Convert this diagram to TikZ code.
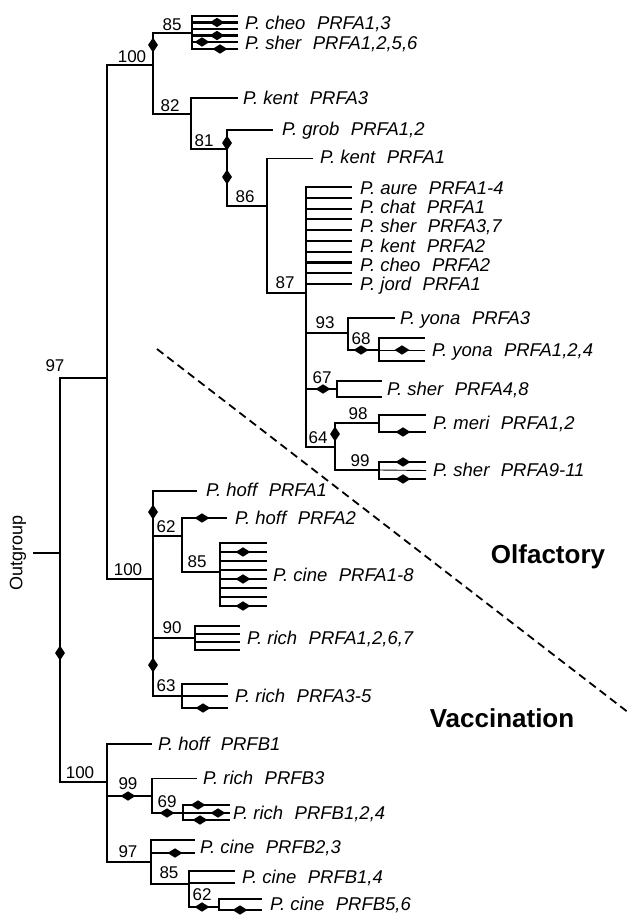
\documentclass[tikz,border=0pt]{standalone}
\usepackage{fontspec}
\setmainfont{Liberation Sans}
\usetikzlibrary{shapes.geometric}
\newcommand\gp{\hspace{0.62em}}
\begin{document}
\begin{tikzpicture}[x=1pt,y=-1pt,
 br/.style={line width=2.1pt},
 tbr/.style={line width=0.9pt},
 tip/.style={anchor=base west,inner sep=0,yshift=-6.6pt,font=\fontsize{18.5}{18.5}\selectfont\itshape},
 bs/.style={inner sep=0,font=\fontsize{17}{17}\selectfont},
 hd/.style={diamond,fill=black,inner sep=0,minimum width=15pt,minimum height=9.5pt},
 vd/.style={diamond,fill=black,inner sep=0,minimum width=10pt,minimum height=15pt},
 big/.style={inner sep=0,font=\fontsize{26}{26}\selectfont\bfseries}]
\useasboundingbox (0,0) rectangle (629,917);

% ---- root
\coordinate (root) at (60,553);
\coordinate (og) at (33,553);
\draw[br] (root) -- (og);
\node[rotate=90,inner sep=0,font=\fontsize{18}{18}\selectfont] (outg) at (18,553) {Outgroup};
\coordinate (nU) at (107,378);
\coordinate (nB) at (107,782);
\draw[br] (root) |- (nU);
\draw[br] (root) |- (nB);
\node[vd] (d1) at (60,653) {};
\node[bs] (b1) at (55,366) {97};
\node[bs] (b2) at (80,773) {100};

% ---- upper (olfactory) clade
\coordinate (nA) at (153,65);
\coordinate (nL) at (153,579);
\draw[br] (nU) |- (nA);
\draw[br] (nU) |- (nL);
\node[bs] (b3) at (132,57) {100};
\node[bs] (b4) at (128,570) {100};

% node A
\coordinate (c85) at (192,33);
\coordinate (c82) at (191,114);
\draw[br] (nA) |- (c85);
\draw[br] (nA) |- (c82);
\node[vd] (d2) at (153,45) {};
\node[bs] (b5) at (172,25) {85};
\node[bs] (b6) at (170,106) {82};
\foreach \y [count=\i] in {16,22.5,29,35.5,42,49} \draw[br] (c85) |- (238,\y) coordinate (t85-\i);
\node[hd] (d3) at (217,22.5) {};
\node[hd] (d4) at (217,35.5) {};
\node[hd] (d5) at (202,42) {};
\node[hd] (d6) at (220,49) {};
\node[tip] (l1) at (245,23) {P. cheo\gp PRFA1,3};
\node[tip] (l2) at (245,43) {P. sher\gp PRFA1,2,5,6};

% node 82
\coordinate (c81) at (227,149);
\draw[br] (c82) |- (238,98) coordinate (tk3);
\draw[br] (c82) |- (c81);
\node[tip] (l3) at (243,98) {P. kent\gp PRFA3};
\node[bs] (b7) at (204,141) {81};

% node 81
\coordinate (c86) at (267,206);
\draw[br] (c81) |- (273,130) coordinate (tgrob);
\draw[br] (c81) |- (c86);
\node[vd] (d7) at (227,143) {};
\node[vd] (d8) at (227,177) {};
\node[tip] (l4) at (282,129) {P. grob\gp PRFA1,2};
\node[bs] (b8) at (245,197) {86};

% node 86
\coordinate (c87) at (306,293);
\draw[br] (c86) -- (267,158) coordinate (k1s);
\draw[tbr] (k1s) -- (313,158) coordinate (tk1);
\draw[br] (c86) |- (c87);
\node[tip] (l5) at (320,157) {P. kent\gp PRFA1};
\node[bs] (b9) at (285,283) {87};

% node 87
\foreach \y [count=\i] in {187,197.8,208.6,219.3,230.1,240.9,251.7,262.5,273.2,284} \draw[br] (c87) |- (352,\y) coordinate (tp-\i);
\node[tip] (l6) at (360,188) {P. aure\gp PRFA1-4};
\node[tip] (l7) at (360,207) {P. chat\gp PRFA1};
\node[tip] (l8) at (360,226) {P. sher\gp PRFA3,7};
\node[tip] (l9) at (360,245.5) {P. kent\gp PRFA2};
\node[tip] (l10) at (360,265) {P. cheo\gp PRFA2};
\node[tip] (l11) at (360,284) {P. jord\gp PRFA1};
\coordinate (c93) at (348,333);
\coordinate (c67) at (337,389);
\coordinate (c64) at (335,447);
\draw[br] (c87) |- (c93);
\draw[br] (c87) |- (c67);
\draw[br] (c87) |- (c64);
\node[bs] (b10) at (325,323) {93};
\node[bs] (b11) at (322,378) {67};
\node[bs] (b12) at (318,438) {64};
\node[hd] (d9) at (323,389) {};

% node 93
\coordinate (c68) at (379,350);
\draw[br] (c93) |- (395,318) coordinate (ty3);
\draw[br] (c93) |- (c68);
\node[hd] (d10) at (361,350) {};
\node[bs] (b13) at (361,339) {68};
\node[tip] (l12) at (400,318) {P. yona\gp PRFA3};

% node 68
\draw[br] (c68) |- (425,338) coordinate (ty1);
\draw[br] (c68) |- (425,361) coordinate (ty2);
\draw[tbr] (c68) -- (425,350) coordinate (ty4);
\node[hd] (d11) at (402,350) {};
\node[tip] (l13) at (432,350) {P. yona\gp PRFA1,2,4};

% node 67
\draw[br] (c67) |- (382,381) coordinate (ts4);
\draw[br] (c67) |- (382,397) coordinate (ts8);
\node[tip] (l14) at (387,389) {P. sher\gp PRFA4,8};

% node 64
\coordinate (c98) at (379,423);
\coordinate (c99) at (379,470);
\draw[br] (c64) |- (c98);
\draw[br] (c64) |- (c99);
\node[vd] (d12) at (335,434) {};
\node[bs] (b14) at (358,414) {98};
\node[bs] (b15) at (360,461) {99};
\draw[br] (c98) |- (426,415) coordinate (tm1);
\draw[br] (c98) |- (426,432) coordinate (tm2);
\node[hd] (d13) at (403,432) {};
\node[tip] (l15) at (433,423) {P. meri\gp PRFA1,2};
\draw[br] (c99) |- (426,462) coordinate (ts9);
\draw[tbr] (c99) -- (426,470.5) coordinate (ts10);
\draw[br] (c99) |- (426,479) coordinate (ts11);
\node[hd] (d14) at (403,462) {};
\node[hd] (d15) at (403,479) {};
\node[tip] (l16) at (433,470) {P. sher\gp PRFA9-11};

% ---- lower olfactory clade (node L)
\coordinate (c62) at (182,536);
\coordinate (c90) at (195,638);
\coordinate (c63) at (182,696);
\draw[br] (nL) |- (197,491) coordinate (th1);
\draw[br] (nL) |- (c62);
\draw[br] (nL) |- (c90);
\draw[br] (nL) |- (c63);
\node[vd] (d16) at (153,512) {};
\node[vd] (d17) at (153,665) {};
\node[bs] (b16) at (166,527) {62};
\node[bs] (b17) at (172,628) {90};
\node[bs] (b18) at (166,686) {63};
\node[tip] (l17) at (206,490) {P. hoff\gp PRFA1};

% node 62
\coordinate (c85b) at (220,572);
\draw[br] (c62) |- (227,518) coordinate (th2);
\draw[br] (c62) |- (c85b);
\node[hd] (d18) at (202,518) {};
\node[tip] (l18) at (235,518) {P. hoff\gp PRFA2};
\node[bs] (b19) at (197,562) {85};
\foreach \k in {0,...,7} \draw[br] (c85b) |- (267,543+9*\k) coordinate (tc-\k);
\node[hd] (d19) at (243,552) {};
\node[hd] (d20) at (243,579) {};
\node[hd] (d21) at (243,606) {};
\node[tip] (l19) at (273,575) {P. cine\gp PRFA1-8};

% node 90
\foreach \y [count=\i] in {626,634,642,650} \draw[br] (c90) |- (240,\y) coordinate (tr-\i);
\node[tip] (l20) at (247,638) {P. rich\gp PRFA1,2,6,7};

% node 63
\foreach \y [count=\i] in {684,696,708} \draw[br] (c63) |- (228,\y) coordinate (tq-\i);
\node[hd] (d22) at (203,708) {};
\node[tip] (l21) at (235,696) {P. rich\gp PRFA3-5};

% ---- vaccination clade (node B)
\coordinate (c99b) at (152,796);
\coordinate (c97b) at (151,862);
\draw[br] (nB) |- (152,744) coordinate (thb1);
\draw[br] (nB) |- (c99b);
\draw[br] (nB) |- (c97b);
\node[tip] (l22) at (158,744) {P. hoff\gp PRFB1};
\node[hd] (d23) at (128,796) {};
\node[bs] (b20) at (128,784) {99};
\node[bs] (b21) at (128,852) {97};

% node 99b
\coordinate (c69) at (183,813);
\draw[br] (c99b) -- (152,778) coordinate (rb3s);
\draw[tbr] (rb3s) -- (197,778) coordinate (trb3);
\draw[br] (c99b) |- (c69);
\node[tip] (l23) at (203,778) {P. rich\gp PRFB3};
\node[hd] (d24) at (167,813) {};
\node[bs] (b22) at (167,802) {69};
\foreach \y [count=\i] in {805,813,820} \draw[br] (c69) |- (230,\y) coordinate (tb-\i);
\node[hd] (d25) at (198,805) {};
\node[hd] (d26) at (218,813) {};
\node[hd] (d27) at (200,820) {};
\node[tip] (l24) at (233,813) {P. rich\gp PRFB1,2,4};

% node 97b
\coordinate (c85c) at (189,884);
\draw[br] (c97b) |- (195,840) coordinate (tcb2);
\draw[br] (c97b) |- (195,853) coordinate (tcb3);
\draw[br] (c97b) |- (c85c);
\node[hd] (d28) at (175,853) {};
\node[tip] (l25) at (200,847) {P. cine\gp PRFB2,3};
\node[bs] (b23) at (169,873) {85};

% node 85c
\coordinate (c62c) at (219,907);
\draw[br] (c85c) |- (235,871) coordinate (tcb1);
\draw[br] (c85c) |- (235,883) coordinate (tcb4);
\draw[br] (c85c) |- (c62c);
\node[tip] (l26) at (242,877) {P. cine\gp PRFB1,4};
\node[hd] (d29) at (202,907) {};
\node[bs] (b24) at (202,895) {62};
\draw[br] (c62c) |- (262,899) coordinate (tcb5);
\draw[br] (c62c) |- (262,910) coordinate (tcb6);
\node[hd] (d30) at (240,910) {};
\node[tip] (l27) at (270,904) {P. cine\gp PRFB5,6};

% ---- regions
\coordinate (ds) at (157,349);
\coordinate (de) at (629,713);
\draw[line width=1.8pt,dash pattern=on 8pt off 5pt] (ds) -- (de);
\node[big] (olf) at (548,557) {Olfactory};
\node[big] (vac) at (502,718) {Vaccination};
\end{tikzpicture}
\end{document}
